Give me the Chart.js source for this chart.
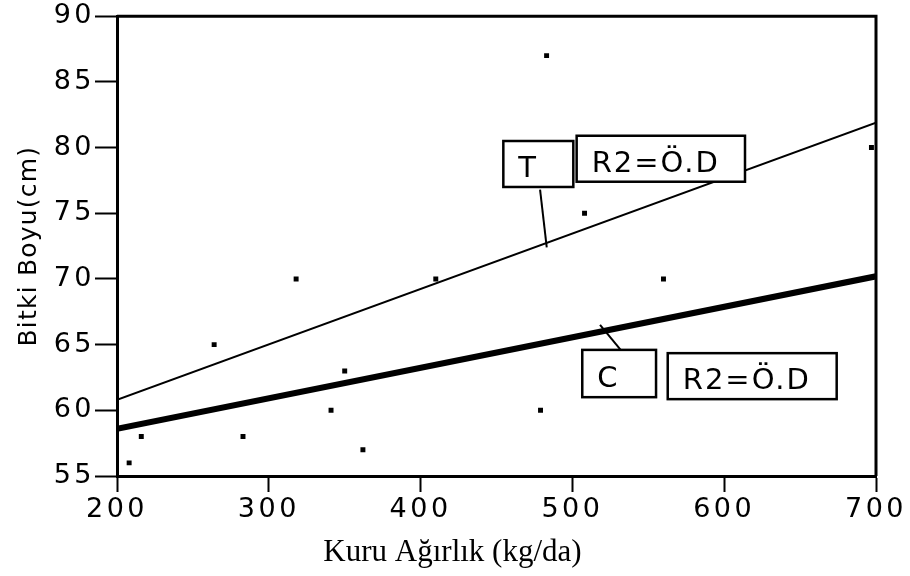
<!DOCTYPE html>
<html>
<head>
<meta charset="utf-8">
<script src="https://cdn.jsdelivr.net/npm/chart.js@4/dist/chart.umd.min.js"></script>
<style>
  body { margin: 0; background: #fff; }
  #wrap { width: 910px; height: 576px; }
</style>
</head>
<body>
<div id="wrap"><canvas id="chart" width="910" height="576"></canvas></div>
<script>
// observed points
const dryWeight = [208, 216, 264, 283, 318, 341, 350, 362, 410, 479, 483, 508, 560, 697];
const plantHeight = [56, 58, 65, 58, 70, 60, 63, 57, 70, 60, 87, 75, 70, 80];

// fitted lines (T thin, C thick)
const fitX = [200, 700];
const fitT = [60.8, 81.9];
const fitC = [58.6, 70.2];

const xTicks = [200, 300, 400, 500, 600, 700];
const yTicks = [55, 60, 65, 70, 75, 80, 85, 90];

const xTitle = 'Kuru Ağırlık (kg/da)';
const yTitle = 'Bitki Boyu(cm)';

// label boxes, in data units
const boxes = [
  { text: 'T', xMin: 454.5, xMax: 500.6, yMin: 77.0, yMax: 80.5 },
  { text: 'R2=Ö.D', xMin: 502.8, xMax: 613.7, yMin: 77.4, yMax: 80.9 },
  { text: 'C', xMin: 506.5, xMax: 555.1, yMin: 61.0, yMax: 64.6 },
  { text: 'R2=Ö.D', xMin: 562.8, xMax: 674.1, yMin: 60.85, yMax: 64.35 }
];
const leaders = [
  { x1: 478.7, y1: 76.8, x2: 483.1, y2: 72.4 },
  { x1: 518.2, y1: 66.5, x2: 531.8, y2: 64.6 }
];

const toXY = (xs, ys) => xs.map((x, i) => ({ x, y: ys[i] }));

// extra spacing for tick labels and the y title, the original glyphs are wide
const spacedText = {
  id: 'spacedText',
  beforeDraw(chart) {
    Object.values(chart.scales).forEach(scale => {
      if (scale._spaced) return;
      scale._spaced = true;
      const drawLabels = scale.drawLabels;
      const drawTitle = scale.drawTitle;
      scale.drawLabels = function (area) {
        this.ctx.save();
        this.ctx.letterSpacing = '3.5px';
        drawLabels.call(this, area);
        this.ctx.restore();
      };
      scale.drawTitle = function () {
        this.ctx.save();
        this.ctx.letterSpacing = '1.2px';
        drawTitle.call(this);
        this.ctx.restore();
      };
    });
  }
};

const frame = {
  id: 'frame',
  afterDraw(chart) {
    const { ctx, chartArea: a, scales: { x, y } } = chart;
    ctx.save();
    ctx.strokeStyle = '#000';
    ctx.lineWidth = 3;
    ctx.beginPath();
    ctx.moveTo(a.left, a.top);
    ctx.lineTo(a.right, a.top);
    ctx.lineTo(a.right, a.bottom);
    ctx.stroke();

    // leader lines
    ctx.lineWidth = 2;
    leaders.forEach(l => {
      ctx.beginPath();
      ctx.moveTo(x.getPixelForValue(l.x1), y.getPixelForValue(l.y1));
      ctx.lineTo(x.getPixelForValue(l.x2), y.getPixelForValue(l.y2));
      ctx.stroke();
    });

    // boxes
    ctx.font = '29px "DejaVu Sans"';
    ctx.letterSpacing = '2px';
    ctx.textBaseline = 'alphabetic';
    ctx.textAlign = 'left';
    boxes.forEach(b => {
      const l = x.getPixelForValue(b.xMin), r = x.getPixelForValue(b.xMax);
      const t = y.getPixelForValue(b.yMax), btm = y.getPixelForValue(b.yMin);
      ctx.fillStyle = '#fff';
      ctx.fillRect(l, t, r - l, btm - t);
      ctx.lineWidth = 2.5;
      ctx.strokeRect(l, t, r - l, btm - t);
      ctx.fillStyle = '#000';
      ctx.fillText(b.text, l + 15, btm - 10);
    });

    // x title sits left of centre in the original
    ctx.letterSpacing = '0px';
    ctx.font = '31px "Liberation Serif"';
    ctx.textAlign = 'center';
    ctx.fillText(xTitle, (a.left + a.right) / 2 - 44, 561);
    ctx.restore();
  }
};

new Chart(document.getElementById('chart'), {
  type: 'scatter',
  data: {
    datasets: [
      {
        label: 'T',
        data: toXY(fitX, fitT),
        showLine: true,
        borderColor: '#000',
        borderWidth: 2,
        pointRadius: 0
      },
      {
        label: 'C',
        data: toXY(fitX, fitC),
        showLine: true,
        borderColor: '#000',
        borderWidth: 6,
        pointRadius: 0
      },
      {
        label: 'obs',
        data: toXY(dryWeight, plantHeight),
        pointStyle: 'rect',
        pointRadius: 3.5,
        backgroundColor: '#000',
        borderColor: '#000',
        borderWidth: 0
      }
    ]
  },
  options: {
    responsive: false,
    animation: false,
    layout: { padding: { top: 15, right: 34, left: 0, bottom: 0 } },
    plugins: {
      legend: { display: false },
      tooltip: { enabled: false }
    },
    scales: {
      x: {
        type: 'linear',
        min: 200,
        max: 700,
        afterBuildTicks: s => { s.ticks = xTicks.map(v => ({ value: v })); },
        afterFit: s => { s.height = 100; },
        ticks: { color: '#000', padding: 2, font: { family: 'DejaVu Sans', size: 27 } },
        grid: { drawOnChartArea: false, drawTicks: true, tickLength: 16, tickWidth: 2, tickColor: '#000' },
        border: { display: true, color: '#000', width: 3 }
      },
      y: {
        type: 'linear',
        min: 55,
        max: 90,
        afterBuildTicks: s => { s.ticks = yTicks.map(v => ({ value: v })); },
        afterFit: s => { s.width = 117; },
        ticks: { color: '#000', padding: 0, font: { family: 'DejaVu Sans', size: 27 } },
        grid: { drawOnChartArea: false, drawTicks: true, tickLength: 22, tickWidth: 2, tickColor: '#000' },
        border: { display: true, color: '#000', width: 3 },
        title: {
          display: true,
          text: yTitle,
          color: '#000',
          padding: { top: 14, bottom: 0 },
          font: { family: 'DejaVu Sans', size: 25 }
        }
      }
    }
  },
  plugins: [spacedText, frame]
});
</script>
</body>
</html>
